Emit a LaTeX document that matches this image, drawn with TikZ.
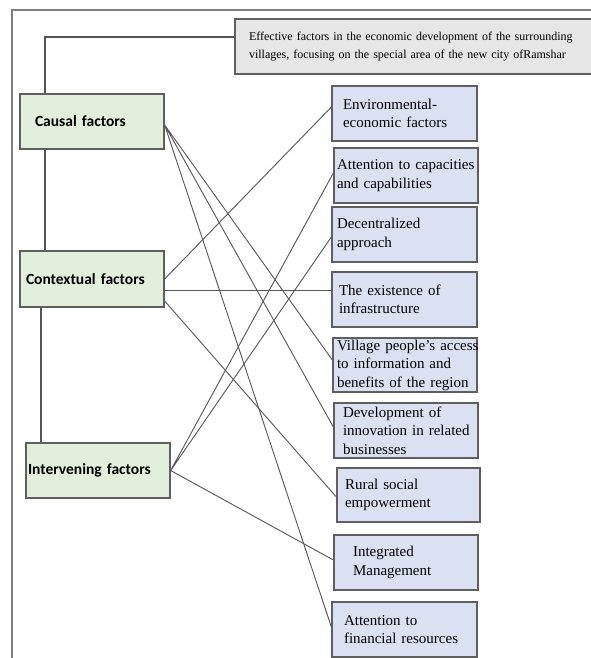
\documentclass[tikz,border=0pt]{standalone}
\usepackage{fontspec}
\setmainfont{Liberation Serif}
\newfontfamily\calibri{Carlito}
\definecolor{boxgreen}{HTML}{E2EFDA}
\definecolor{boxblue}{HTML}{D9E1F2}
\definecolor{boxgray}{HTML}{E7E6E6}
\definecolor{edge}{HTML}{5F5F5F}
\definecolor{wire}{HTML}{555555}
\tikzset{
  factor/.style={draw=edge,line width=1.3pt,fill=boxgreen,minimum height=55pt,inner ysep=1pt,align=left,
    font=\calibri\bfseries\fontsize{15.5}{18}\selectfont},
  effect/.style={draw=edge,line width=1.3pt,fill=boxblue,minimum height=55pt,inner ysep=1pt,align=left,
    font=\fontsize{15}{18.5}\selectfont},
  heading/.style={draw=edge,line width=1.3pt,fill=boxgray,minimum height=55pt,align=left,
    font=\fontsize{12}{18}\selectfont},
  link/.style={draw=wire,line width=0.9pt},
  frame/.style={draw=edge!80,line width=1.3pt}
}
\begin{document}
\begin{tikzpicture}[x=1pt,y=-1pt]
  \useasboundingbox (0,0) rectangle (590,658);
  \draw[frame] (12,670) -- (12,10) -- (600,10);
  \node[heading,inner xsep=14pt,text width=332pt] (title) at (415,46.5) {Effective factors in the economic development of the surrounding\\villages, focusing on the special area of the new city ofRamshar};
  % left column
  \node[factor,inner xsep=15pt,text width=114pt] (causal) at (92,121.5) {Causal factors};
  \node[factor,inner xsep=6pt,text width=132pt,minimum height=56pt] (context) at (92,279) {Contextual factors};
  \node[factor,inner xsep=2pt,text width=140pt] (interv) at (98,470.5) {Intervening factors};
  % right column
  \node[effect,inner xsep=11pt,text width=123pt] (env) at (404.5,113.5) {Environmental-\\economic factors};
  \node[effect,inner xsep=3pt,text width=138pt] (capac) at (406,175.5) {\mbox{Attention to capacities}\\and capabilities};
  \node[effect,inner xsep=5pt,text width=135pt] (decent) at (404.5,234.5) {Decentralized\\approach};
  \node[effect,inner xsep=7pt,text width=131pt] (infra) at (404.5,299.5) {The existence of\\infrastructure};
  \node[effect,inner xsep=4pt,text width=136pt,minimum height=54pt,inner ysep=0pt] (village) at (405,365) {\mbox{Village people's access}\\\mbox{to information and}\\\mbox{benefits of the region}};
  \node[effect,inner xsep=9pt,text width=126pt,inner ysep=0pt] (develop) at (406,430.5) {Development of\\\mbox{innovation in related}\\businesses};
  \node[effect,inner xsep=8pt,text width=127pt,minimum height=54pt] (rural) at (408.5,495) {Rural social\\empowerment};
  \node[effect,inner xsep=19pt,text width=106pt] (integ) at (406,562.5) {Integrated\\Management};
  \node[effect,inner xsep=12pt,text width=121pt] (finance) at (404.5,629.5) {Attention to\\financial resources};
  % tree on the left
  \coordinate (bend) at (45,37);
  \coordinate (drop) at (41,0);
  \draw[link,line width=1.1pt] (title.west |- bend) -| (causal.north -| bend)
    (causal.south -| bend) -- (context.north -| bend)
    (context.south -| drop) -- (interv.north -| drop);
  % causal links
  \draw[link] ([yshift=-3.5pt]causal.east) -- ([yshift=5pt]village.west)
    ([yshift=-3.5pt]causal.east) -- ([yshift=3.5pt]develop.west)
    ([yshift=-3.5pt]causal.east) -- ([yshift=2.5pt]finance.west);
  % contextual links
  \coordinate (infra-in) at ([yshift=9pt]infra.west);
  \draw[link] (context.east) -- ([yshift=6.5pt]env.west)
    (infra-in -| context.east) -- (infra-in)
    ([yshift=-22pt]context.east) -- ([yshift=-2pt]rural.west);
  % intervening links
  \draw[link] (interv.east) -- ([yshift=2.5pt]capac.west)
    (interv.east) -- ([yshift=-2.5pt]decent.west)
    (interv.east) -- ([yshift=2.5pt]integ.west);
\end{tikzpicture}
\end{document}
